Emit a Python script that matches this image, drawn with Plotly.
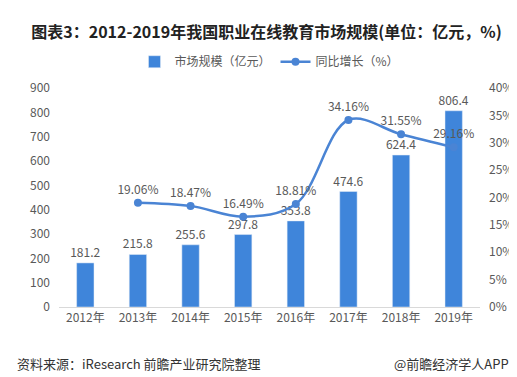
import plotly.graph_objects as go

years = ["2012年", "2013年", "2014年", "2015年", "2016年", "2017年", "2018年", "2019年"]
market = [181.2, 215.8, 255.6, 297.8, 353.8, 474.6, 624.4, 806.4]
growth = [None, 19.06, 18.47, 16.49, 18.81, 34.16, 31.55, 29.16]
left_ticks = [0, 100, 200, 300, 400, 500, 600, 700, 800, 900]
right_ticks = [0, 5, 10, 15, 20, 25, 30, 35, 40]

FONT = "Noto Sans CJK SC, Microsoft YaHei, sans-serif"
BAR = "#3F85DA"
LINE = "#4A84D4"
GRAY = "#595959"

fig = go.Figure()
fig.add_trace(go.Bar(
    x=years, y=market, name="市场规模（亿元）",
    marker=dict(color=BAR), width=0.33,
    text=[f"{v:.1f}" for v in market], textposition="outside",
    constraintext="none",
    textfont=dict(size=12, color=GRAY, family=FONT), cliponaxis=False,
))
fig.add_trace(go.Scatter(
    x=years, y=growth, name="同比增长（%）", yaxis="y2",
    mode="lines+markers+text",
    line=dict(color=LINE, width=2.5, shape="spline", smoothing=1.0),
    marker=dict(size=8, color=LINE),
    text=[None if g is None else f"{g:.2f}%" for g in growth],
    textposition="top center",
    textfont=dict(size=12, color=GRAY, family=FONT), cliponaxis=False,
))

fig.update_layout(
    width=517, height=377,
    margin=dict(l=51, r=40, t=80, b=78),
    paper_bgcolor="white", plot_bgcolor="white",
    font=dict(family=FONT, color=GRAY, size=12),
    title=dict(text="<b>图表3：2012-2019年我国职业在线教育市场规模(单位：亿元，%)</b>",
               x=0.5, xanchor="center", y=0.935, yanchor="middle",
               font=dict(size=16, color="#222222", family=FONT)),
    legend=dict(orientation="h", x=0.5, xanchor="center", y=1.12, yanchor="middle",
                font=dict(size=12, color=GRAY, family=FONT), bgcolor="rgba(0,0,0,0)"),
    xaxis=dict(showline=True, linecolor="#D9D9D9", linewidth=1, ticks="",
               tickfont=dict(size=12, color=GRAY), showgrid=False),
    yaxis=dict(range=[0, 900], tickvals=left_ticks, showgrid=False, zeroline=False,
               tickfont=dict(size=12, color=GRAY), ticklabelstandoff=8),
    yaxis2=dict(range=[0, 40], tickvals=right_ticks, ticktext=[f"{t}%" for t in right_ticks],
                overlaying="y", side="right", showgrid=False, zeroline=False,
                tickfont=dict(size=12, color=GRAY), ticklabelstandoff=8),
    annotations=[
        dict(text="资料来源：iResearch 前瞻产业研究院整理", xref="paper", yref="paper",
             x=-45/426, y=(299-355)/219, xanchor="left", yanchor="middle", showarrow=False,
             font=dict(size=13, color="#333333", family=FONT)),
        dict(text="@前瞻经济学人APP", xref="paper", yref="paper",
             x=(508-51)/426, y=(299-355)/219, xanchor="right", yanchor="middle", showarrow=False,
             font=dict(size=13, color="#333333", family=FONT)),
    ],
)

fig.write_html("out.html")
